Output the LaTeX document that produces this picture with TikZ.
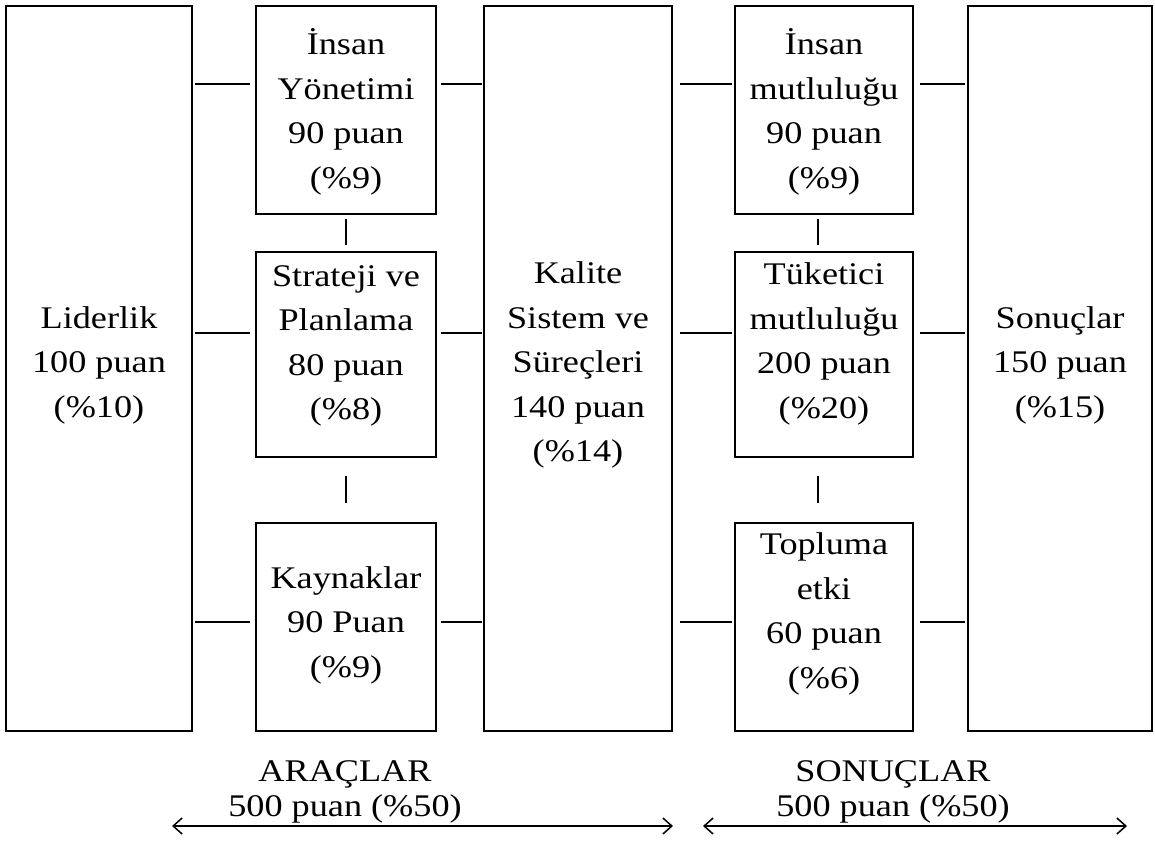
\documentclass[tikz,border=0pt]{standalone}
\usepackage{fontspec}
\setmainfont{Liberation Serif}[FakeStretch=1.15]
\usetikzlibrary{arrows.meta,calc}
\begin{document}
\begin{tikzpicture}[x=1pt,y=-1pt,
  every node/.style={outer sep=0pt},
  frame/.style={draw, line width=2pt, inner sep=0pt},
  bigbox/.style={frame, minimum height=725pt},
  lbl/.style={align=center, inner sep=0pt, font=\fontsize{31.5}{44.5}\selectfont},
  foot/.style={align=center, inner sep=0pt, font=\fontsize{31.5}{35}\selectfont},
  conn/.style={line width=2pt},
  span/.style={line width=1.5pt, {Straight Barb[length=9pt,width=16pt]}-{Straight Barb[length=9pt,width=16pt]}}
]
\useasboundingbox (0,0) rectangle (1155,864);

% frames
\node[bigbox, minimum width=186pt] (lid) at (99,368.5) {};
\node[frame, minimum width=180pt, minimum height=208pt] (iy) at (346,110) {};
\node[frame, minimum width=180pt, minimum height=205pt] (sp) at (346,354.5) {};
\node[frame, minimum width=180pt, minimum height=208pt] (ky) at (346,627) {};
\node[bigbox, minimum width=188pt] (ks) at (578,368.5) {};
\node[frame, minimum width=178pt, minimum height=208pt] (im) at (824,110) {};
\node[frame, minimum width=178pt, minimum height=205pt] (tm) at (824,354.5) {};
\node[frame, minimum width=178pt, minimum height=208pt] (te) at (824,627) {};
\node[bigbox, minimum width=184pt] (so) at (1060,368.5) {};

% texts
\node[lbl] (lidT) at (99,365) {Liderlik\\100 puan\\(\%10)};
\node[lbl] (iyT) at (346,112) {İnsan\\Yönetimi\\90 puan\\(\%9)};
\node[lbl] (spT) at (346,346) {Strateji ve\\Planlama\\80 puan\\(\%8)};
\node[lbl] (kyT) at (346,625) {Kaynaklar\\90 Puan\\(\%9)};
\node[lbl] (ksT) at (578,365) {Kalite\\Sistem ve\\Süreçleri\\140 puan\\(\%14)};
\node[lbl] (imT) at (824,112) {İnsan\\mutluluğu\\90 puan\\(\%9)};
\node[lbl] (tmT) at (824,344) {Tüketici\\mutluluğu\\200 puan\\(\%20)};
\node[lbl] (teT) at (824,614) {Topluma\\etki\\60 puan\\(\%6)};
\node[lbl] (soT) at (1060,365) {Sonuçlar\\150 puan\\(\%15)};

% connector rows
\coordinate (r1) at (0,84);
\coordinate (r2) at (0,333);
\coordinate (r3) at (0,622);

\foreach \r in {r1,r2,r3}{
  \draw[conn] ($(lid.east |- \r)+(3,0)$) -- ($(iy.west |- \r)+(-6,0)$);
  \draw[conn] ($(iy.east |- \r)+(5,0)$) -- ($(ks.west |- \r)+(-2,0)$);
  \draw[conn] ($(ks.east |- \r)+(8,0)$) -- ($(im.west |- \r)+(-3,0)$);
  \draw[conn] ($(im.east |- \r)+(7,0)$) -- ($(so.west |- \r)+(-3,0)$);
}

% vertical links inside the two middle columns
\draw[conn] ($(iy.south)+(0,5)$) -- ($(sp.north)+(0,-7)$);
\draw[conn] ($(sp.south)+(0,19)$) -- ($(ky.north)+(0,-20)$);
\draw[conn] ($(im.south)+(-6,5)$) -- ($(tm.north)+(-6,-7)$);
\draw[conn] ($(tm.south)+(-6,19)$) -- ($(te.north)+(-6,-20)$);

% bottom spans
\coordinate (a1) at (172,826);
\coordinate (a2) at (673,826);
\coordinate (a3) at (703,826);
\coordinate (a4) at (1127,826);
\draw[span] (a1) -- (a2);
\draw[span] (a3) -- (a4);
\node[foot] (araT) at (345,792) {ARAÇLAR\\500 puan (\%50)};
\node[foot] (sonT) at (893,792) {SONUÇLAR\\500 puan (\%50)};
\end{tikzpicture}
\end{document}
